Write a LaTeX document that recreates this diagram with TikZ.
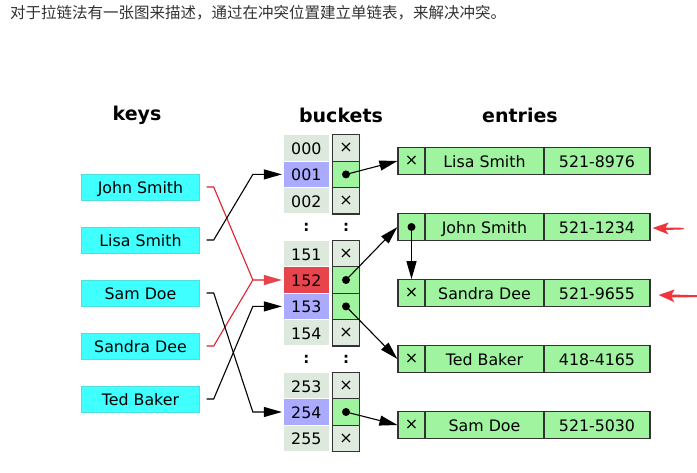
\documentclass[tikz,border=0pt]{standalone}
\usepackage{fontspec}
\setmainfont{DejaVu Sans}
\newfontfamily\cjk{Noto Sans CJK SC}
\usetikzlibrary{arrows.meta}
\definecolor{keycyan}{HTML}{3FFFFF}
\definecolor{numgray}{HTML}{DCE9DC}
\definecolor{numblue}{HTML}{AAAAFF}
\definecolor{numred}{HTML}{E8444C}
\definecolor{cellgreen}{HTML}{A0F4A0}
\definecolor{cellgray}{HTML}{DFEBDF}
\definecolor{linkred}{HTML}{E0202C}
\definecolor{hintred}{HTML}{F0343E}
\definecolor{edgec}{HTML}{333333}
\definecolor{headc}{HTML}{333333}
\tikzset{
  txt/.style={font=\fontsize{15.8}{18}\selectfont, text height=13pt, text depth=0pt},
  heading/.style={font=\fontsize{19}{22}\selectfont\bfseries},
  keybox/.style={fill=keycyan, draw=keycyan!75!gray, line width=0.4pt, minimum width=118pt, minimum height=26pt, inner sep=0pt, txt},
  numcell/.style={minimum width=44.5pt, minimum height=25.2pt, inner sep=0pt, txt},
  ptrcell/.style={draw=edgec, line width=1.2pt, minimum width=26.6pt, minimum height=26.4pt, inner sep=0pt, font=\fontsize{16}{18}\selectfont},
  entcell/.style={draw=edgec, fill=cellgreen, line width=1.2pt, minimum height=26.5pt, inner sep=0pt, txt},
  colon/.style={font=\fontsize{15}{18}\selectfont\bfseries, inner sep=0pt},
  tipL/.style={-{Triangle[length=18pt,width=10pt]}},
  blacklink/.style={draw=black, line width=1.1pt, tipL},
  redlink/.style={draw=linkred, line width=1.1pt, -{Triangle[length=18pt,width=10pt,color=numred]}},
  hint/.style={fill=hintred},
  dot/.style={fill=black}
}
\begin{document}
\begin{tikzpicture}[x=1pt,y=-1pt]
\useasboundingbox[fill=white] (0,0) rectangle (697,473);

% header
\node[anchor=west, inner sep=0pt, text=headc, font=\cjk\fontsize{15.5}{17}\selectfont] (head) at (10,13) {对于拉链法有一张图来描述，通过在冲突位置建立单链表，来解决冲突。};

% headings
\node[heading] (hkeys) at (137,115) {keys};
\node[heading] (hbuckets) at (341,115) {buckets};
\node[heading] (hentries) at (520,115) {entries};

% keys
\node[keybox] (kJohn) at (140.5,187) {John Smith};
\node[keybox] (kLisa) at (140.5,240) {Lisa Smith};
\node[keybox] (kSam) at (140.5,293) {Sam Doe};
\node[keybox] (kSandra) at (140.5,346) {Sandra Dee};
\node[keybox] (kTed) at (140.5,399) {Ted Baker};

% buckets
\foreach \k/\lab/\col in {0/000/numgray,1/001/numblue,2/002/numgray,4/151/numgray,5/152/numred,6/153/numblue,7/154/numgray,9/253/numgray,10/254/numblue,11/255/numgray}
  \node[numcell, fill=\col] (b\lab) at ({306.3},{148+26.4*\k}) {\lab};
\foreach \k/\lab in {0/000,2/002,4/151,7/154,9/253,11/255}
  \node[ptrcell, fill=cellgray] (p\lab) at ({346},{148+26.4*\k}) {×};
\foreach \k/\lab in {1/001,5/152,6/153,10/254}
  {\node[ptrcell, fill=cellgreen] (p\lab) at ({346},{148+26.4*\k}) {};
   \fill[dot] (p\lab.center) circle[radius=4pt];}
\foreach \k/\n in {3/a,8/b}
  {\node[colon] (cn\n) at ({306.3},{148+26.4*\k}) {:};
   \node[colon] (cp\n) at ({346},{148+26.4*\k}) {:};}

% entries
\foreach \nm/\name/\tel/\y in {Lisa/Lisa Smith/521-8976/161,John/John Smith/521-1234/227,Sandra/Sandra Dee/521-9655/293,Ted/Ted Baker/418-4165/359,Sam/Sam Doe/521-5030/425}
  {\node[entcell, minimum width=27pt] (e\nm p) at (411.5,\y) {};
   \node[entcell, minimum width=119pt] (e\nm n) at (484.5,\y) {\name};
   \node[entcell, minimum width=106pt] (e\nm t) at (597,\y) {\tel};}
\foreach \nm in {Lisa,Sandra,Ted,Sam}
  \node[font=\fontsize{16}{18}\selectfont, inner sep=0pt] (x\nm) at (e\nm p.center) {×};
\fill[dot] (eJohnp.center) circle[radius=4pt];

% key -> bucket links
\draw[redlink] ([xshift=7pt]kJohn.east) -- ++(7,0) -- ([xshift=-31pt]b152.west) -- ([xshift=-2pt]b152.west);
\draw[draw=linkred, line width=1.1pt] ([xshift=7pt]kSandra.east) -- ++(7,0) -- ([xshift=-31pt]b152.west);
\draw[blacklink] ([xshift=7pt]kLisa.east) -- ++(7,0) -- ([xshift=-31pt]b001.west) -- ([xshift=-2pt]b001.west);
\draw[blacklink] ([xshift=7pt]kSam.east) -- ++(7,0) -- ([xshift=-31pt]b254.west) -- ([xshift=-2pt]b254.west);
\draw[blacklink] ([xshift=7pt]kTed.east) -- ++(7,0) -- ([xshift=-31pt]b153.west) -- ([xshift=-2pt]b153.west);

% bucket -> entry links
\draw[blacklink] (p001.center) -- (eLisap.west);
\draw[blacklink] (p152.center) -- (eJohnp.west);
\draw[blacklink] (p153.center) -- (eTedp.west);
\draw[blacklink] (p254.center) -- (eSamp.west);
\draw[blacklink] (eJohnp.center) -- (eSandrap.north);

% red hint arrows
\fill[hint] ([xshift=2pt,yshift=-1pt]eJohnt.east) -- ++(16,-5.5) -- ++(-3,5) -- ++(18,0.3) -- ++(0,1.6) -- ++(-18,0.6) -- ++(3,4.5) -- cycle;
\fill[hint] ([xshift=8pt,yshift=-2pt]eSandrat.east) -- ++(16,-5.5) -- ++(-3,5) -- ++(27,0.8) -- ++(0,1.8) -- ++(-27,0.4) -- ++(3,4.8) -- cycle;
\end{tikzpicture}
\end{document}
